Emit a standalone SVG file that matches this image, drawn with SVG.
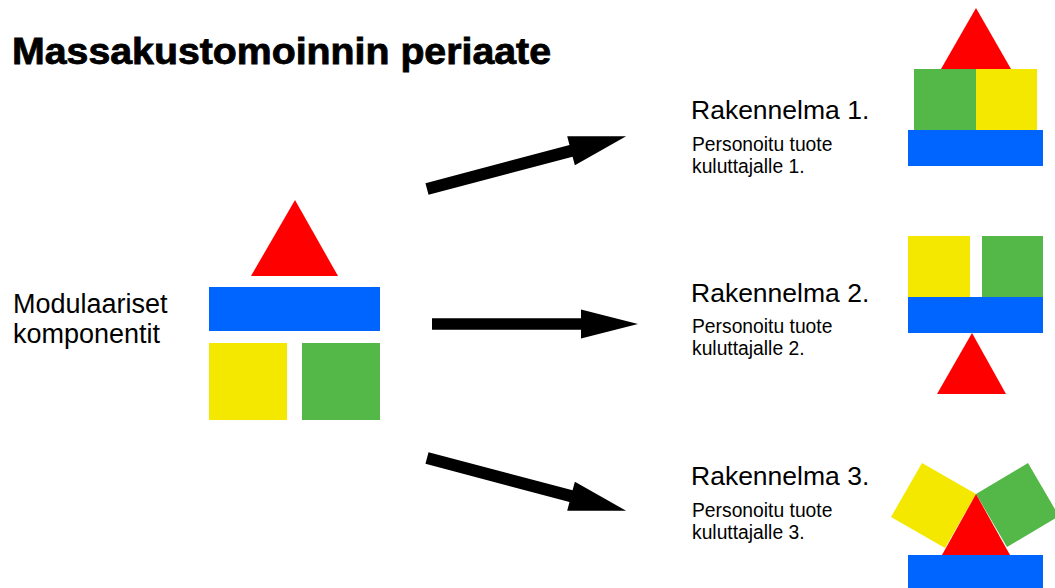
<svg xmlns="http://www.w3.org/2000/svg" width="1055" height="588" viewBox="0 0 1055 588">
  <style>
    .red { fill: #FF0000; }
    .blue { fill: #0064FE; }
    .yellow { fill: #F5E800; }
    .green { fill: #53B848; }
    .title { font-family: "Liberation Sans", Arial, sans-serif; font-weight: bold; font-size: 36px; fill: #000; stroke: #000; stroke-width: 0.8px; }
    .head { font-family: "Liberation Sans", Arial, sans-serif; font-size: 26.5px; fill: #000; }
    .sub { font-family: "Liberation Sans", Arial, sans-serif; font-size: 19.3px; fill: #000; }
    .label { font-family: "Liberation Sans", Arial, sans-serif; font-size: 27px; fill: #000; }
    .arrow { fill: #000; }
  </style>
  <defs>
    <!-- block arrow pointing along +x, tail at the origin, length 206 -->
    <path id="blockArrow" d="M0,-6 L149,-6 L149,-15 L206,0 L149,15 L149,6 L0,6 Z"/>
  </defs>

  <rect width="1055" height="588" fill="#fff"/>

  <text class="title" x="12" y="64" textLength="539" lengthAdjust="spacingAndGlyphs">Massakustomoinnin periaate</text>

  <!-- loose modular components -->
  <g id="components">
    <polygon class="red" points="295,200 338,276 251,276"/>
    <rect class="blue" x="209" y="287" width="171" height="44"/>
    <rect class="yellow" x="209" y="343" width="78" height="77"/>
    <rect class="green" x="302" y="343" width="78" height="77"/>
    <text class="label" x="13" y="313">Modulaariset</text>
    <text class="label" x="13" y="343">komponentit</text>
  </g>

  <!-- connectors -->
  <g id="connectors">
    <use href="#blockArrow" class="arrow" transform="translate(427,189) rotate(-14.84)"/>
    <use href="#blockArrow" class="arrow" transform="translate(432,324) scale(1,0.97)"/>
    <use href="#blockArrow" class="arrow" transform="translate(427,458) rotate(14.84)"/>
  </g>

  <!-- assembly 1 -->
  <g id="build1">
    <polygon class="red" points="976,8 1011,69 941,69"/>
    <rect class="green" x="914" y="69" width="62" height="61"/>
    <rect class="yellow" x="976" y="69" width="61" height="61"/>
    <rect class="blue" x="908" y="130" width="135" height="36"/>
    <text class="head" x="691" y="119">Rakennelma 1.</text>
    <text class="sub" x="692" y="150.5">Personoitu tuote</text>
    <text class="sub" x="692" y="172.5">kuluttajalle 1.</text>
  </g>

  <!-- assembly 2 -->
  <g id="build2">
    <rect class="yellow" x="908" y="236" width="62" height="61"/>
    <rect class="green" x="982" y="236" width="61" height="61"/>
    <rect class="blue" x="908" y="297" width="135" height="36"/>
    <polygon class="red" points="972,333 1006,394 937,394"/>
    <text class="head" x="691" y="301.5">Rakennelma 2.</text>
    <text class="sub" x="692" y="333">Personoitu tuote</text>
    <text class="sub" x="692" y="355">kuluttajalle 2.</text>
  </g>

  <!-- assembly 3 -->
  <g id="build3">
    <polygon class="yellow" points="922,463 976,494 945,548 891,517"/>
    <polygon class="green" points="976,494 1028,463 1059,516 1007,547"/>
    <polygon class="red" points="976,494 1010,555 942,555"/>
    <rect class="blue" x="908" y="555" width="135" height="40"/>
    <text class="head" x="691" y="485">Rakennelma 3.</text>
    <text class="sub" x="692" y="516.5">Personoitu tuote</text>
    <text class="sub" x="692" y="538.5">kuluttajalle 3.</text>
  </g>
</svg>
